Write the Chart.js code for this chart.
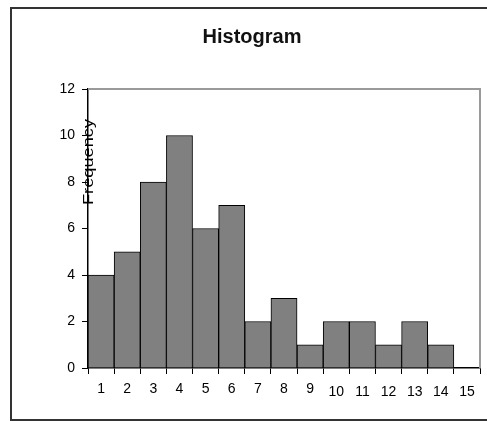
<!DOCTYPE html>
<html>
<head>
<meta charset="utf-8">
<title>Histogram</title>
<script src="https://cdn.jsdelivr.net/npm/chart.js@4/dist/chart.umd.min.js"></script>
<style>
  html, body { margin: 0; padding: 0; background: #fff; }
  #wrap { width: 487px; height: 421px; }
</style>
</head>
<body>
<div id="wrap"><canvas id="chart" width="487" height="421"></canvas></div>
<script>
  // ── Data ──
  var bins = ['1', '2', '3', '4', '5', '6', '7', '8', '9', '10', '11', '12', '13', '14', '15'];
  var frequency = [4, 5, 8, 10, 6, 7, 2, 3, 1, 2, 2, 1, 2, 1, 0];
  var yMax = 12;
  var yStep = 2;

  var FONT = 'Arial, "Liberation Sans", sans-serif';

  // Frame, plot border and the rotated axis title
  var decor = {
    id: 'decor',
    beforeDraw: function (chart) {
      var ctx = chart.ctx;
      ctx.save();
      ctx.fillStyle = '#fff';
      ctx.fillRect(0, 0, chart.width, chart.height);
      ctx.restore();
    },
    afterDatasetsDraw: function (chart) {
      var ctx = chart.ctx;
      var a = chart.chartArea;
      ctx.save();
      // grey plot-area border (top + right)
      ctx.strokeStyle = '#9a9a9a';
      ctx.lineWidth = 2;
      ctx.beginPath();
      ctx.moveTo(a.left, a.top);
      ctx.lineTo(a.right, a.top);
      ctx.lineTo(a.right, a.bottom);
      ctx.stroke();

      // "Frequency" sits right on the value axis
      ctx.translate(a.left + 1, a.top + 73);
      ctx.rotate(-Math.PI / 2);
      ctx.scale(1.3, 1);
      ctx.fillStyle = '#000';
      ctx.font = '14px ' + FONT;
      ctx.textAlign = 'center';
      ctx.textBaseline = 'middle';
      ctx.fillText('Frequency', 0, 0);
      ctx.restore();
    },
    afterDraw: function (chart) {
      var ctx = chart.ctx;
      ctx.save();
      ctx.strokeStyle = '#333';
      ctx.lineWidth = 2;
      ctx.strokeRect(11, 8, 500, 412);
      ctx.restore();
    }
  };

  new Chart(document.getElementById('chart').getContext('2d'), {
    type: 'bar',
    data: {
      labels: bins,
      datasets: [{
        label: 'Frequency',
        data: frequency,
        backgroundColor: '#808080',
        borderColor: '#000',
        borderWidth: 1,
        barPercentage: 1,
        categoryPercentage: 1
      }]
    },
    plugins: [decor],
    options: {
      responsive: false,
      animation: false,
      layout: { padding: { top: 0, left: 24, right: 7, bottom: 8 } },
      plugins: {
        legend: { display: false },
        tooltip: { enabled: false },
        title: {
          display: true,
          text: 'Histogram',
          color: '#111',
          font: { family: FONT, size: 20, weight: 'bold' },
          padding: { top: 25, bottom: 40 }
        }
      },
      scales: {
        x: {
          offset: true,
          grid: {
            offset: true,
            drawOnChartArea: false,
            color: '#000',
            tickLength: 6
          },
          border: { color: '#000', width: 1.5 },
          ticks: {
            color: '#000',
            padding: 7,
            maxRotation: 0,
            autoSkip: false,
            font: function (ctx) {
              // the two-digit labels sit a little lower in the original
              return { family: FONT, size: 14, lineHeight: ctx.index >= 9 ? 1.6 : 1.2 };
            }
          },
          afterFit: function (scale) { scale.height = 45; }
        },
        y: {
          min: 0,
          max: yMax,
          grid: {
            drawOnChartArea: false,
            color: '#000',
            tickLength: 6
          },
          border: { color: '#000', width: 1.5 },
          ticks: {
            stepSize: yStep,
            color: '#000',
            padding: 7,
            font: { family: FONT, size: 14 }
          },
          afterFit: function (scale) { scale.width = 64; }
        }
      }
    }
  });
</script>
</body>
</html>
